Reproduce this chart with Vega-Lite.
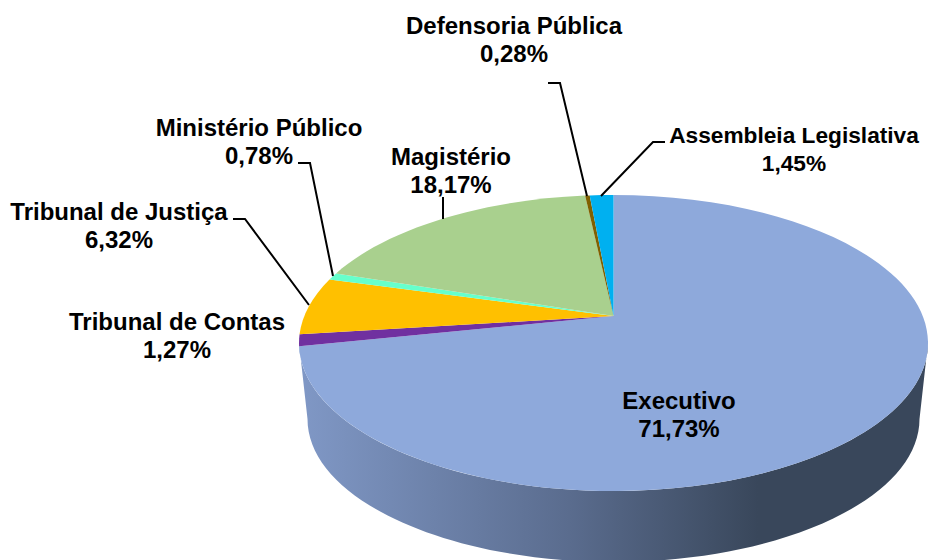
{
  "$schema": "https://vega.github.io/schema/vega-lite/v6.json",
  "width": 937,
  "height": 560,
  "padding": 0,
  "autosize": {"type": "none"},
  "background": "white",
  "config": {"view": {"stroke": null}},
  "datasets": {
    "fatias": [
      {"ordem": 1, "orgao": "Executivo", "valor": 71.73},
      {"ordem": 2, "orgao": "Tribunal de Contas", "valor": 1.27},
      {"ordem": 3, "orgao": "Tribunal de Justiça", "valor": 6.32},
      {"ordem": 4, "orgao": "Ministério Público", "valor": 0.78},
      {"ordem": 5, "orgao": "Magistério", "valor": 18.17},
      {"ordem": 6, "orgao": "Defensoria Pública", "valor": 0.28},
      {"ordem": 7, "orgao": "Assembleia Legislativa", "valor": 1.45}
    ],
    "guias": [
      {"guia": "Defensoria Pública", "passo": 1, "px": 548, "py": 83},
      {"guia": "Defensoria Pública", "passo": 2, "px": 560, "py": 83},
      {"guia": "Defensoria Pública", "passo": 3, "px": 587, "py": 196},
      {"guia": "Assembleia Legislativa", "passo": 1, "px": 665, "py": 142},
      {"guia": "Assembleia Legislativa", "passo": 2, "px": 653, "py": 142},
      {"guia": "Assembleia Legislativa", "passo": 3, "px": 601, "py": 196},
      {"guia": "Ministério Público", "passo": 1, "px": 298, "py": 163},
      {"guia": "Ministério Público", "passo": 2, "px": 310, "py": 163},
      {"guia": "Ministério Público", "passo": 3, "px": 333, "py": 276},
      {"guia": "Tribunal de Justiça", "passo": 1, "px": 233, "py": 219},
      {"guia": "Tribunal de Justiça", "passo": 2, "px": 245, "py": 219},
      {"guia": "Tribunal de Justiça", "passo": 3, "px": 309, "py": 305},
      {"guia": "Magistério", "passo": 1, "px": 443, "py": 197},
      {"guia": "Magistério", "passo": 2, "px": 443, "py": 219}
    ]
  },
  "layer": [
    {
      "data": {"values": [{"peca": "lateral"}]},
      "mark": {
        "type": "point",
        "filled": true,
        "opacity": 1,
        "size": 4,
        "shape": "M-314.5,27A314.5,148,0,0,0,314.5,27L306,103A306,143,0,0,1,-306,103Z",
        "fill": {
          "gradient": "linear",
          "x1": 0, "y1": 0, "x2": 1, "y2": 0,
          "stops": [
            {"offset": 0, "color": "#8098c6"},
            {"offset": 0.43, "color": "#5a6c8e"},
            {"offset": 0.73, "color": "#39475b"},
            {"offset": 1, "color": "#39475b"}
          ]
        }
      },
      "encoding": {
        "x": {"datum": 613.5, "type": "quantitative", "scale": {"domain": [0, 937]}, "axis": null},
        "y": {"datum": 316, "type": "quantitative", "scale": {"domain": [560, 0]}, "axis": null}
      }
    },
    {
      "data": {"name": "fatias"},
      "transform": [
        {"window": [{"op": "sum", "field": "valor", "as": "acum"}], "sort": [{"field": "ordem"}]},
        {"calculate": "(datum.acum - datum.valor) * 2 * PI / 100", "as": "a0"},
        {"calculate": "datum.acum * 2 * PI / 100", "as": "a1"},
        {"calculate": "round(100 * 309.2 * sin(datum.a0) / (1 + 0.1824 * cos(datum.a0))) / 100", "as": "x0"},
        {"calculate": "round(-100 * 143.07 * cos(datum.a0) / (1 + 0.1824 * cos(datum.a0))) / 100", "as": "y0"},
        {"calculate": "round(100 * 309.2 * sin(datum.a1) / (1 + 0.1824 * cos(datum.a1))) / 100", "as": "x1"},
        {"calculate": "round(-100 * 143.07 * cos(datum.a1) / (1 + 0.1824 * cos(datum.a1))) / 100", "as": "y1"},
        {"calculate": "'M0,0L' + datum.x0 + ',' + datum.y0 + 'A314.5,148,0,' + (datum.valor > 50 ? 1 : 0) + ',1,' + datum.x1 + ',' + datum.y1 + 'Z'", "as": "fatia"}
      ],
      "mark": {"type": "point", "filled": true, "opacity": 1, "size": 4},
      "encoding": {
        "x": {"datum": 613.5, "type": "quantitative", "scale": {"domain": [0, 937]}, "axis": null},
        "y": {"datum": 316, "type": "quantitative", "scale": {"domain": [560, 0]}, "axis": null},
        "shape": {"field": "fatia", "type": "nominal", "scale": null, "legend": null},
        "color": {
          "field": "orgao",
          "type": "nominal",
          "legend": null,
          "scale": {
            "domain": ["Executivo", "Tribunal de Contas", "Tribunal de Justiça", "Ministério Público", "Magistério", "Defensoria Pública", "Assembleia Legislativa"],
            "range": ["#8ea9db", "#7030a0", "#ffc000", "#66ffcc", "#a9d08e", "#806000", "#00b0f0"]
          }
        }
      }
    },
    {
      "data": {"name": "guias"},
      "mark": {"type": "line", "color": "black", "strokeWidth": 2, "interpolate": "linear"},
      "encoding": {
        "x": {"field": "px", "type": "quantitative", "scale": {"domain": [0, 937]}, "axis": null},
        "y": {"field": "py", "type": "quantitative", "scale": {"domain": [560, 0]}, "axis": null},
        "detail": {"field": "guia"},
        "order": {"field": "passo"}
      }
    },
    {
      "data": {"name": "fatias"},
      "transform": [
        {"calculate": "datum.orgao + '\\n' + replace(format(datum.valor, '.2f'), '.', ',') + '%'", "as": "rotulo"},
        {"calculate": "{'Executivo': 679, 'Tribunal de Contas': 177, 'Tribunal de Justiça': 119, 'Ministério Público': 259, 'Magistério': 451, 'Defensoria Pública': 514, 'Assembleia Legislativa': 794}[datum.orgao]", "as": "lx"},
        {"calculate": "{'Executivo': 409, 'Tribunal de Contas': 330, 'Tribunal de Justiça': 220, 'Ministério Público': 136, 'Magistério': 165, 'Defensoria Pública': 34, 'Assembleia Legislativa': 143}[datum.orgao]", "as": "ly"}
      ],
      "mark": {"type": "text", "font": "Liberation Sans", "fontWeight": "bold", "color": "black", "align": "center", "baseline": "alphabetic", "lineBreak": "\n", "lineHeight": 28},
      "encoding": {
        "x": {"field": "lx", "type": "quantitative", "scale": {"domain": [0, 937]}, "axis": null},
        "y": {"field": "ly", "type": "quantitative", "scale": {"domain": [560, 0]}, "axis": null},
        "text": {"field": "rotulo"},
        "size": {"condition": {"test": "datum.orgao === 'Assembleia Legislativa'", "value": 22.7}, "value": 24}
      }
    }
  ]
}
